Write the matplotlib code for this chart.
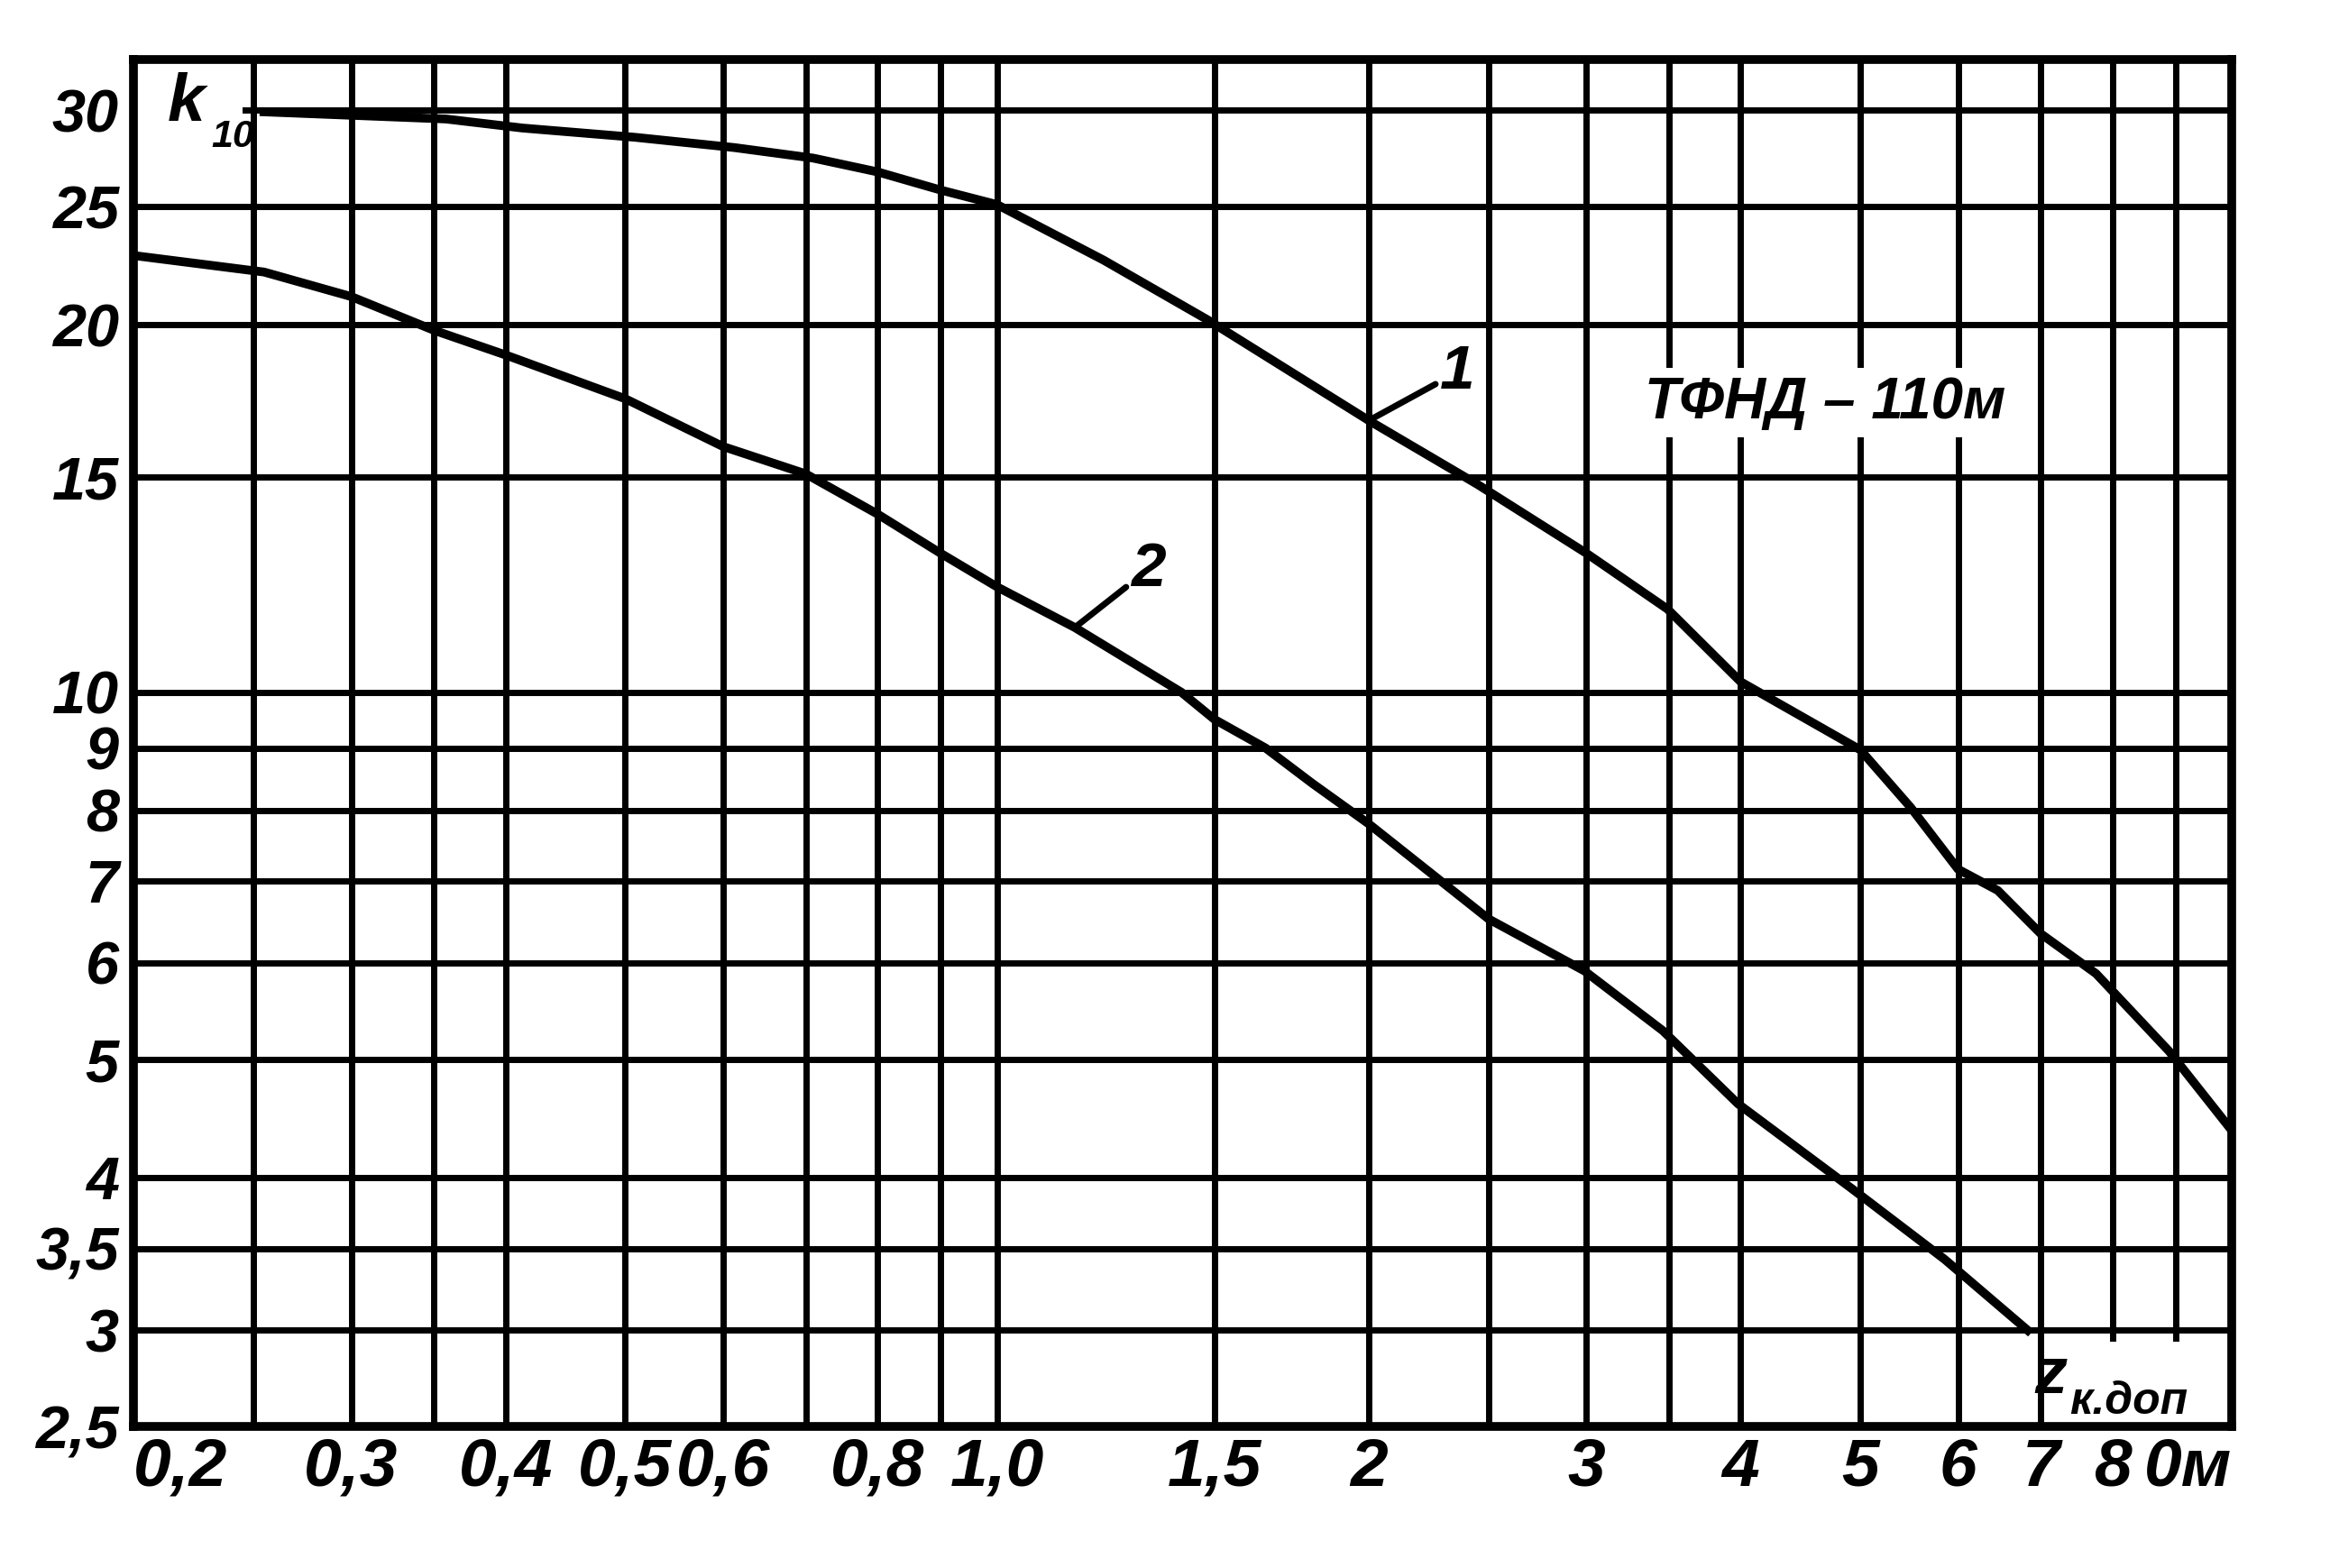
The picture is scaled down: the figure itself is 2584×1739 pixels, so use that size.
import matplotlib
matplotlib.use("Agg")
from matplotlib import pyplot as plt
from matplotlib.patches import Rectangle

# curve 1 (upper) and curve 2 (lower)
x1 = [0.255, 0.358, 0.413, 0.509, 0.613, 0.71, 0.8, 0.9, 1.0, 1.22, 1.48, 2.0,
      2.45, 3.0, 3.49, 4.0, 5.0, 5.49, 6.0, 6.46, 7.0, 7.76, 8.89, 10.0]
k1 = [29.9, 29.5, 29.0, 28.5, 27.95, 27.4, 26.7, 25.8, 25.1, 22.6, 20.2, 16.7,
      14.8, 13.0, 11.7, 10.2, 8.97, 8.05, 7.16, 6.88, 6.34, 5.88, 5.08, 4.37]

x2 = [0.2, 0.255, 0.3, 0.35, 0.4, 0.5, 0.6, 0.7, 0.8, 0.9, 1.0, 1.156, 1.41,
      1.5, 1.65, 1.8, 2.0, 2.5, 2.99, 3.46, 3.98, 4.92, 5.85, 6.83]
k2 = [22.8, 22.1, 21.1, 19.8, 18.9, 17.4, 15.9, 15.1, 14.0, 13.0, 12.2, 11.3,
      10.0, 9.5, 9.0, 8.42, 7.8, 6.52, 5.91, 5.28, 4.6, 3.92, 3.43, 3.0]

# grid of the nomogram and its labels
x_grid = [0.2, 0.25, 0.3, 0.35, 0.4, 0.5, 0.6, 0.7, 0.8, 0.9, 1.0, 1.5, 2,
          2.5, 3, 3.5, 4, 5, 6, 7, 8, 9, 10]
x_labels = ['0,2', '', '0,3', '', '0,4', '0,5', '0,6', '', '0,8', '', '1,0',
            '1,5', '2', '', '3', '', '4', '5', '6', '7', '8', '', '0м']
y_grid = [2.5, 3, 3.5, 4, 5, 6, 7, 8, 9, 10, 15, 20, 25, 30]
y_labels = ['2,5', '3', '3,5', '4', '5', '6', '7', '8', '9', '10', '15', '20',
            '25', '30']

plt.rcParams['font.family'] = ['Liberation Sans', 'DejaVu Sans']
txt = dict(fontweight='bold', fontstyle='italic', color='black')

fig = plt.figure(figsize=(25.84, 17.39), dpi=100)
ax = fig.add_axes([0.0574, 0.090, 0.9006, 0.872])
ax.set_xscale('log')
ax.set_yscale('log')
ax.set_xlim(0.2, 10)
ax.set_ylim(2.5, 33)

ax.set_xticks(x_grid, labels=x_labels, fontsize=54, **txt)
ax.set_yticks(y_grid, labels=y_labels, fontsize=48, **txt)
ax.minorticks_off()
ax.tick_params(length=0)
ax.tick_params(axis='x', pad=8)
ax.tick_params(axis='y', pad=12)
ax.get_xticklabels()[0].set_ha('left')
ax.get_xticklabels()[-1].set_ha('right')

ax.set_axisbelow(True)
ax.grid(True, color='black', lw=5)
for s in ax.spines.values():
    s.set_linewidth(7)
    s.set_zorder(2.5)

ax.plot(x1, k1, color='black', lw=7, solid_joinstyle='round', zorder=2)
ax.plot(x2, k2, color='black', lw=7, solid_joinstyle='round', zorder=2)

# k10 corner label
ax.add_patch(Rectangle((0.0, 0.925), 0.052, 0.075, transform=ax.transAxes,
                       facecolor='white', edgecolor='none', zorder=2.2))
kt = ax.text(0.016, 0.955, 'k', transform=ax.transAxes, fontsize=54,
             ha='left', va='baseline', zorder=3, **txt)
ax.annotate('10', xy=(1, 0), xycoords=kt, xytext=(5, -10),
            textcoords='offset points', fontsize=31, ha='left',
            va='baseline', zorder=3, **txt)

# type of cable
ax.text(0.806, 0.749, 'ТФНД – 110м', transform=ax.transAxes, fontsize=46,
        ha='center', va='center', zorder=3,
        bbox=dict(facecolor='white', edgecolor='none', pad=6), **txt)

# curve numbers
ax.annotate('1', xy=(2.0, 16.7), xytext=(2.36, 18.3), fontsize=50,
            ha='center', va='center', zorder=3,
            arrowprops=dict(arrowstyle='-', color='black', lw=5, shrinkA=2, shrinkB=0),
            **txt)
ax.annotate('2', xy=(1.156, 11.3), xytext=(1.325, 12.6), fontsize=50,
            ha='center', va='center', zorder=3,
            arrowprops=dict(arrowstyle='-', color='black', lw=5, shrinkA=2, shrinkB=0),
            **txt)

# axis name in the lower right corner
ax.add_patch(Rectangle((0.912, 0.0), 0.088, 0.062, transform=ax.transAxes,
                       facecolor='white', edgecolor='none', zorder=2.2))
zt = ax.text(0.906, 0.025, 'z', transform=ax.transAxes, fontsize=52,
             ha='left', va='baseline', zorder=3, **txt)
ax.annotate('к.доп', xy=(1, 0), xycoords=zt, xytext=(2, -6),
            textcoords='offset points', fontsize=36, ha='left',
            va='baseline', zorder=3, **txt)

fig.savefig('out.png', dpi=100, facecolor='white')
